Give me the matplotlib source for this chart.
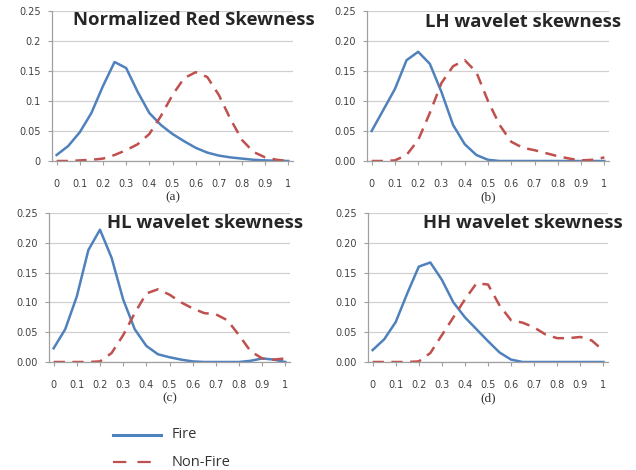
import matplotlib
matplotlib.use("Agg")
import matplotlib.pyplot as plt
from matplotlib.lines import Line2D

x = [round(i * 0.05, 2) for i in range(21)]

fire_a = [0.01, 0.025, 0.048, 0.08, 0.125, 0.165, 0.155, 0.115, 0.08, 0.06, 0.045,
          0.033, 0.022, 0.014, 0.009, 0.006, 0.004, 0.002, 0.001, 0.0005, 0.0]
nonfire_a = [0.0, 0.0, 0.001, 0.002, 0.004, 0.01, 0.018, 0.028, 0.045, 0.075, 0.11,
             0.138, 0.148, 0.14, 0.11, 0.07, 0.035, 0.015, 0.006, 0.002, 0.0]

fire_b = [0.05, 0.085, 0.12, 0.168, 0.182, 0.162, 0.115, 0.06, 0.028, 0.01, 0.002,
          0.0, 0.0, 0.0, 0.0, 0.0, 0.0, 0.0, 0.0, 0.0, 0.0]
nonfire_b = [0.0, 0.0, 0.001, 0.01, 0.035, 0.08, 0.13, 0.158, 0.168, 0.148, 0.1,
             0.06, 0.032, 0.022, 0.018, 0.013, 0.008, 0.004, 0.001, 0.002, 0.006]

fire_c = [0.023, 0.055, 0.11, 0.188, 0.222, 0.175, 0.105, 0.055, 0.027, 0.013, 0.008,
          0.004, 0.001, 0.0, 0.0, 0.0, 0.0, 0.002, 0.006, 0.004, 0.0]
nonfire_c = [0.0, 0.0, 0.0, 0.0, 0.001, 0.015, 0.045, 0.082, 0.115, 0.122, 0.113,
             0.1, 0.09, 0.082, 0.08, 0.07, 0.045, 0.018, 0.006, 0.004, 0.006]

fire_d = [0.02, 0.038, 0.067, 0.115, 0.16, 0.167, 0.138, 0.1, 0.075, 0.055, 0.035,
          0.016, 0.004, 0.0, 0.0, 0.0, 0.0, 0.0, 0.0, 0.0, 0.0]
nonfire_d = [0.0, 0.0, 0.0, 0.0, 0.001, 0.015, 0.045, 0.075, 0.105, 0.132, 0.13,
             0.095, 0.07, 0.066, 0.058, 0.046, 0.04, 0.04, 0.042, 0.036, 0.019]

titles = ["Normalized Red Skewness", "LH wavelet skewness",
          "HL wavelet skewness", "HH wavelet skewness"]
captions = ["(a)", "(b)", "(c)", "(d)"]
xticks = [0, 0.1, 0.2, 0.3, 0.4, 0.5, 0.6, 0.7, 0.8, 0.9, 1.0]
xtick_labels = ["0", "0.1", "0.2", "0.3", "0.4", "0.5", "0.6", "0.7", "0.8", "0.9", "1"]
yticks = [0, 0.05, 0.1, 0.15, 0.2, 0.25]
ytick_labels_a = ["0", "0.05", "0.1", "0.15", "0.2", "0.25"]
ytick_labels_other = ["0.00", "0.05", "0.10", "0.15", "0.20", "0.25"]

W, H = 636, 470
fig = plt.figure(figsize=(W / 100, H / 100), dpi=100)

BLUE = "#4F81BD"
RED = "#C0504D"
GRAY = "#A0A0A0"

# pixel boxes: left, right, top, bottom
boxes = [(52, 293, 11, 161), (367, 609, 11, 161), (49, 290, 213, 362), (368, 608, 213, 362)]
title_pos = [(315, 20), (621, 22), (303, 223), (623, 223)]
series = [(fire_a, nonfire_a), (fire_b, nonfire_b), (fire_c, nonfire_c), (fire_d, nonfire_d)]

for i, (box, (f, nf)) in enumerate(zip(boxes, series)):
    l, r, t, b = box
    ax = fig.add_axes([l / W, 1 - b / H, (r - l) / W, (b - t) / H])
    ax.plot(x, f, color=BLUE, lw=1.8, solid_joinstyle="round")
    ax.plot(x, nf, color=RED, lw=1.8, dashes=(4.5, 3))
    ax.set_xlim(-0.02, 1.02)
    ax.set_ylim(0, 0.25)
    ax.set_yticks(yticks)
    ax.set_yticklabels(ytick_labels_a if i == 0 else ytick_labels_other)
    ax.set_xticks(xticks)
    ax.set_xticklabels(xtick_labels)
    ax.grid(axis="y", color="#D0D0D0", lw=0.9)
    ax.set_axisbelow(True)
    for s in ["top", "right"]:
        ax.spines[s].set_visible(False)
    for s in ["left", "bottom"]:
        ax.spines[s].set_color(GRAY)
        ax.spines[s].set_linewidth(0.9)
    ax.tick_params(axis="y", length=3, color=GRAY, labelsize=7, labelcolor="#404040", pad=5)
    ax.tick_params(axis="x", length=3, color=GRAY, labelsize=7, labelcolor="#404040", pad=10)
    tx, ty = title_pos[i]
    fig.text(tx / W, 1 - ty / H, titles[i], ha="right", va="center",
             fontsize=13.3, fontweight="bold", family="Open Sans", color="#262626")
    fig.text(((l + r) / 2) / W, 1 - (b + 36) / H, captions[i], ha="center", va="center",
             fontsize=9.5, family="Liberation Serif", color="#333333")

# legend
lx0, lx1 = 113, 161
fig.add_artist(Line2D([lx0 / W, lx1 / W], [1 - 435 / H, 1 - 435 / H], color=BLUE, lw=2.2))
fig.add_artist(Line2D([lx0 / W, 152 / W], [1 - 462 / H, 1 - 462 / H], color=RED, lw=1.6,
                      dashes=(6, 5)))
fig.text(172 / W, 1 - 435 / H, "Fire", ha="left", va="center", fontsize=10.5,
         family="Open Sans", color="#333333")
fig.text(172 / W, 1 - 462 / H, "Non-Fire", ha="left", va="center", fontsize=10.5,
         family="Open Sans", color="#333333")

fig.savefig("out.png", dpi=100)
